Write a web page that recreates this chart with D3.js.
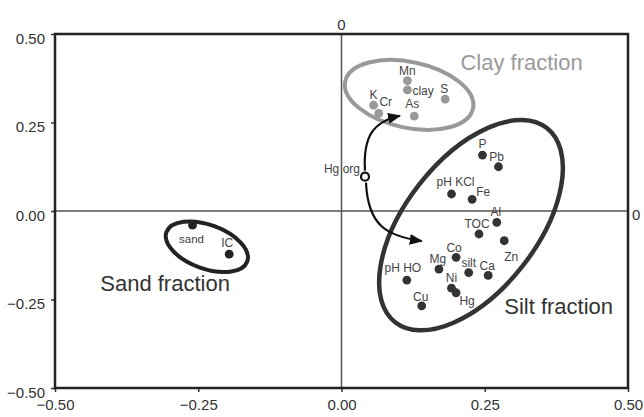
<!DOCTYPE html>
<html>
<head>
<meta charset="utf-8">
<script src="https://cdn.jsdelivr.net/npm/d3@7"></script>
<style>
  html, body { margin: 0; padding: 0; background: #fff; }
  svg { display: block; font-family: "Liberation Sans", Arial, sans-serif; }
</style>
</head>
<body>
<div id="chart"></div>
<script>
// ---- data ----
const clayNames = ['Mn', 'clay', 'K', 'Cr', 'As', 'S']
const clayX = [0.115, 0.115, 0.056, 0.065, 0.127, 0.181]
const clayY = [0.368, 0.342, 0.299, 0.276, 0.268, 0.316]

const siltNames = ['P', 'Pb', 'pH KCl', 'Fe', 'Al', 'TOC', 'Zn', 'Co', 'Mg', 'silt', 'Ca', 'pH HO', 'Ni', 'Hg', 'Cu']
const siltX = [0.246, 0.274, 0.192, 0.228, 0.271, 0.240, 0.284, 0.200, 0.170, 0.222, 0.256, 0.114, 0.192, 0.200, 0.140]
const siltY = [0.158, 0.125, 0.048, 0.033, -0.032, -0.065, -0.084, -0.131, -0.164, -0.174, -0.182, -0.195, -0.218, -0.231, -0.268]

const sandNames = ['sand', 'IC']
const sandX = [-0.260, -0.196]
const sandY = [-0.040, -0.122]

const hgOrg = [0.041, 0.097]
const arrowEnds = [[0.102, 0.269], [0.140, -0.085]]

const tickValues = [-0.5, -0.25, 0, 0.25, 0.5]

// group ellipses: name, centre x, centre y, radius (x units), radius (y units), tilt
const groupNames = ['Clay fraction', 'Silt fraction', 'Sand fraction']
const groupCx = [0.118, 0.226, -0.235]
const groupCy = [0.328, -0.040, -0.101]
const groupRx = [0.114, 0.215, 0.075]
const groupRy = [0.093, 0.186, 0.062]
const groupTilt = [12, -52, 20]
const groupLabelX = [0.421, 0.284, -0.421]
const groupLabelY = [0.398, -0.291, -0.227]

// ---- rendering ----
const width = 644
const height = 417
const margin = { top: 34, right: 16, bottom: 29, left: 55 }

const svg = d3.select('#chart').append('svg')
  .attr('width', width)
  .attr('height', height)

const x = d3.scaleLinear().domain([-0.5, 0.5]).range([margin.left, width - margin.right])
const y = d3.scaleLinear().domain([-0.5, 0.5]).range([height - margin.bottom, margin.top])

const fmt = d3.format('.2f')

// label placement relative to the dot (pixels)
const labelOffset = {
  Mn: [0, -6], clay: [5, 5, 'start'], K: [0, -6], Cr: [7, -7], As: [-2, -8], S: [-1, -6.5],
  P: [0, -7], Pb: [-2, -6], 'pH KCl': [4, -8], Fe: [11, -3], Al: [-1, -6], TOC: [-2, -6],
  Zn: [7, 20], Co: [-2, -5], Mg: [-1, -6], silt: [0, -6], Ca: [-1, -5], 'pH HO': [-4, -8],
  Ni: [0, -6], Hg: [11, 12], Cu: [-1, -5], sand: [-1, 18], IC: [-2, -7]
}

// zero lines
svg.append('line')
  .attr('x1', x(-0.5)).attr('x2', x(0.5))
  .attr('y1', y(0)).attr('y2', y(0))
  .attr('stroke', '#555').attr('stroke-width', 1.5)
svg.append('line')
  .attr('x1', x(0)).attr('x2', x(0))
  .attr('y1', y(0.5)).attr('y2', y(-0.5))
  .attr('stroke', '#555').attr('stroke-width', 1.5)

// axes
const yAxis = svg.append('g')
  .attr('transform', `translate(${x(-0.5)},0)`)
  .call(d3.axisLeft(y).tickValues(tickValues).tickFormat(fmt).tickSize(4).tickPadding(6))
const xAxis = svg.append('g')
  .attr('transform', `translate(0,${y(-0.5)})`)
  .call(d3.axisBottom(x).tickValues(tickValues).tickFormat(fmt).tickSize(4).tickPadding(7))

for (const ax of [xAxis, yAxis]) {
  ax.select('.domain').remove()
  ax.selectAll('line').attr('stroke', '#333').attr('stroke-width', 1.5)
  ax.selectAll('text').attr('fill', '#333').attr('font-size', 15)
    .attr('font-family', '"Liberation Sans", Arial, sans-serif')
}
yAxis.selectAll('text').attr('dy', '0.6em')

// frame
svg.append('rect')
  .attr('x', x(-0.5)).attr('y', y(0.5))
  .attr('width', x(0.5) - x(-0.5))
  .attr('height', y(-0.5) - y(0.5))
  .attr('fill', 'none')
  .attr('stroke', '#222')
  .attr('stroke-width', 2.5)

// zero labels
svg.append('text').text('0')
  .attr('x', x(0)).attr('y', y(0.5) - 4)
  .attr('text-anchor', 'middle').attr('font-size', 15).attr('fill', '#333')
svg.append('text').text('0')
  .attr('x', x(0.5) + 4).attr('y', y(0) + 9)
  .attr('font-size', 15).attr('fill', '#333')

// group ellipses
const groupStroke = ['#999', '#333', '#222']
const groupWidth = [4, 4.5, 4]
const groupText = ['#9a9a9a', '#333', '#333']
groupNames.forEach((name, i) => {
  const cx = x(groupCx[i])
  const cy = y(groupCy[i])
  svg.append('ellipse')
    .attr('cx', cx).attr('cy', cy)
    .attr('rx', x(groupRx[i]) - x(0))
    .attr('ry', y(0) - y(groupRy[i]))
    .attr('transform', `rotate(${groupTilt[i]},${cx},${cy})`)
    .attr('fill', 'none')
    .attr('stroke', groupStroke[i])
    .attr('stroke-width', groupWidth[i])
  svg.append('text').text(name)
    .attr('x', x(groupLabelX[i])).attr('y', y(groupLabelY[i]))
    .attr('text-anchor', i === 0 ? 'end' : 'start')
    .attr('font-size', 22)
    .attr('fill', groupText[i])
})

// arrows
const defs = svg.append('defs')
defs.append('marker')
  .attr('id', 'head')
  .attr('markerUnits', 'userSpaceOnUse')
  .attr('viewBox', '0 0 12 10')
  .attr('refX', 11).attr('refY', 5)
  .attr('markerWidth', 13).attr('markerHeight', 11)
  .attr('orient', 'auto')
  .append('path').attr('d', 'M0,0 L12,5 L0,10 Z').attr('fill', '#111')

const hx = x(hgOrg[0])
const hy = y(hgOrg[1])
const [u, d] = arrowEnds.map(([a, b]) => [x(a), y(b)])
const arrowPaths = [
  `M${hx},${hy - 6} C${hx - 2},${hy - 40} ${u[0] - 27},${u[1] + 6} ${u[0]},${u[1]}`,
  `M${hx + 1},${hy + 6} C${hx + 3},${hy + 50} ${d[0] - 34},${d[1] - 5} ${d[0]},${d[1]}`
]
svg.append('g').selectAll('path')
  .data(arrowPaths)
  .enter()
  .append('path')
  .attr('d', p => p)
  .attr('fill', 'none')
  .attr('stroke', '#111')
  .attr('stroke-width', 2.2)
  .attr('marker-end', 'url(#head)')

// points
const makePoints = (names, xs, ys) => names.map((n, i) => ({ name: n, x: xs[i], y: ys[i] }))
const sets = [
  { pts: makePoints(clayNames, clayX, clayY), color: '#999' },
  { pts: makePoints(siltNames, siltX, siltY), color: '#333' },
  { pts: makePoints(sandNames, sandX, sandY), color: '#222' }
]

for (const s of sets) {
  const g = svg.append('g')
    .selectAll('g')
    .data(s.pts)
    .enter()
    .append('g')
    .attr('transform', p => `translate(${x(p.x)},${y(p.y)})`)
  g.append('circle')
    .attr('r', 4.4)
    .attr('fill', s.color)
  g.append('text')
    .text(p => p.name)
    .attr('x', p => labelOffset[p.name][0])
    .attr('y', p => labelOffset[p.name][1])
    .attr('text-anchor', p => labelOffset[p.name][2] || 'middle')
    .attr('font-size', p => (p.name === 'sand' ? 11.5 : 12))
    .attr('fill', '#444')
}

// Hg org (open circle)
svg.append('circle')
  .attr('cx', hx).attr('cy', hy).attr('r', 4)
  .attr('fill', '#fff').attr('stroke', '#111').attr('stroke-width', 2.2)
svg.append('text').text('Hg org')
  .attr('x', hx - 5).attr('y', hy - 4)
  .attr('text-anchor', 'end')
  .attr('font-size', 12)
  .attr('fill', '#444')
</script>
</body>
</html>
